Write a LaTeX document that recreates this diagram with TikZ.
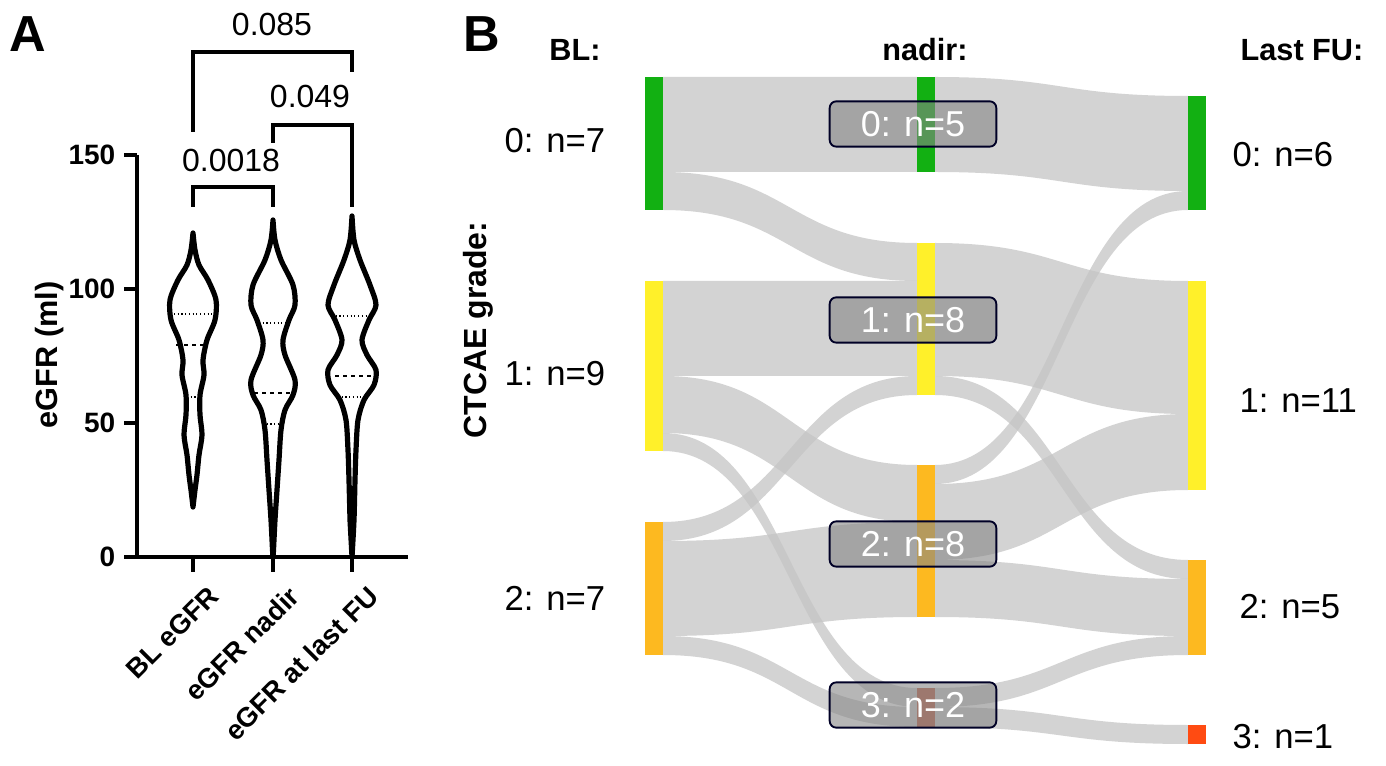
\documentclass[tikz,border=0pt]{standalone}
\usepackage{fontspec}
\setmainfont{Liberation Sans}
\definecolor{cg}{HTML}{12B012}
\definecolor{cy}{HTML}{FFF02A}
\definecolor{co}{HTML}{FDB920}
\definecolor{cb}{HTML}{C0654A}
\definecolor{cr}{HTML}{FF4B12}
\definecolor{fl}{HTML}{C4C4C4}
\newcommand{\fs}[1]{\fontsize{#1}{#1}\selectfont}
\newcommand{\ribbon}[6]{% x1 a1 a2 x2 b1 b2
 \fill[fl,opacity=0.75] (#1,#2) .. controls ({(#1+#4)/2},#2) and ({(#1+#4)/2},#5) .. (#4,#5) -- (#4,#6) .. controls ({(#1+#4)/2},#6) and ({(#1+#4)/2},#3) .. (#1,#3) -- cycle;}
\begin{document}
\begin{tikzpicture}[x=0.75pt,y=-0.75pt,
  vio/.style={line width=3.9pt,line join=round},
  axis/.style={line width=2.8pt},
  brk/.style={line width=2.4pt},
  tick/.style={font=\fs{21}\bfseries,anchor=east},
  cat/.style={font=\fs{20.5}\bfseries,anchor=north east,rotate=45},
  pv/.style={font=\fs{24}},
  lab/.style={font=\fs{26}},
  hdr/.style={font=\fs{23}\bfseries},
  bx/.style={draw=black!85!blue,line width=1.4pt,rounded corners=5pt,fill=gray!95,fill opacity=0.6,text=white,text opacity=1,minimum width=125pt,minimum height=34pt,font=\fs{27}}]
\useasboundingbox (0,0) rectangle (1386,766);
% ---------- Panel A
\node[font=\fs{38}\bfseries] (A) at (28,34) {A};
\draw[axis] (137,155) -- (137,557) -- (408,557);
\foreach \y/\t in {155/150,289/100,423/50,557/0}{
  \draw[axis] (124,\y) -- (137,\y);
  \node[tick] (t\t) at (120,\y) {\t};}
\foreach \x in {193,273,352}{\draw[axis] (\x,557) -- (\x,572);}
\node[font=\fs{23}\bfseries,rotate=90] (yl) at (50,355) {eGFR (ml)};
\node[cat] (c1) at (207,578) {BL eGFR};
\node[cat] (c2) at (287,578) {eGFR nadir};
\node[cat] (c3) at (366,578) {eGFR at last FU};
% violins
\draw[vio] plot[smooth] coordinates {(193,233)(195,250)(199,265)(208,280)(216,300)(215,320)(207,340)(203,360)(204,375)(200,395)(200,415)(202,435)(199,455)(197,475)(195,490)(193,507)}
  -- plot[smooth] coordinates {(191,490)(189,475)(187,455)(184,435)(186,415)(186,395)(182,375)(183,360)(179,340)(171,320)(170,300)(178,280)(187,265)(191,250)(193,233)} -- cycle;
\draw[vio] plot[smooth] coordinates {(273,220)(275,240)(281,260)(293,285)(295,305)(289,320)(283,340)(285,355)(295,380)(293,395)(285,410)(281,430)(279,460)(277,490)(275,520)(273.5,550)(273,557)}
  -- plot[smooth] coordinates {(272.5,550)(271,520)(269,490)(267,460)(265,430)(261,410)(253,395)(251,380)(261,355)(263,340)(257,320)(251,305)(253,285)(265,260)(271,240)(273,220)} -- cycle;
\draw[vio] plot[smooth] coordinates {(352,216)(354,240)(360,260)(370,285)(376,305)(369,320)(362,340)(367,355)(376,370)(374,385)(364,400)(358,420)(356,450)(355,480)(354,520)(352,557)}
  -- plot[smooth] coordinates {(350,520)(349,480)(348,450)(346,420)(340,400)(330,385)(328,370)(337,355)(342,340)(335,320)(328,305)(334,285)(344,260)(350,240)(352,216)} -- cycle;
\draw[dotted,thick] (174,314) -- (212,314); \draw[dashed,thick] (176,345) -- (206,345); \draw[dotted,thick] (187,397) -- (199,397);
\draw[dotted,thick] (259,323) -- (288,323); \draw[dashed,thick] (254,393) -- (293,393); \draw[dotted,thick] (263,424) -- (283,424);
\draw[dotted,thick] (332,316) -- (372,316); \draw[dashed,thick] (335,376) -- (375,376); \draw[dotted,thick] (338,397) -- (366,397);
% brackets
\draw[brk] (193,207) -- (193,187) -- (273,187) -- (273,207);
\node[pv] (p1) at (231,160) {0.0018};
\draw[brk] (273,143) -- (273,125) -- (352,125) -- (352,207);
\node[pv] (p2) at (310,96) {0.049};
\draw[brk] (193,132) -- (193,52) -- (352,52) -- (352,72);
\node[pv] (p3) at (272,24) {0.085};
% ---------- Panel B
\node[font=\fs{38}\bfseries] (B) at (482,34) {B};
\node[hdr] (h1) at (575,50) {BL:};
\node[hdr] (h2) at (925,50) {nadir:};
\node[hdr] (h3) at (1302,50) {Last FU:};
\node[font=\fs{24}\bfseries,rotate=90] (ct) at (478,330) {CTCAE grade:};
% ribbons BL -> nadir
\ribbon{663}{77}{172}{917}{77}{172}
\ribbon{663}{172}{210}{917}{243}{281}
\ribbon{663}{281}{376}{917}{281}{376}
\ribbon{663}{376}{433}{917}{465}{522}
\ribbon{663}{433}{451}{917}{688}{707}
\ribbon{663}{522}{541}{917}{376}{395}
\ribbon{663}{541}{636}{917}{522}{617}
\ribbon{663}{636}{655}{917}{707}{727}
% nadir -> last FU
\ribbon{935}{77}{172}{1188}{96}{191}
\ribbon{935}{243}{376}{1188}{281}{414}
\ribbon{935}{376}{395}{1188}{560}{579}
\ribbon{935}{465}{484}{1188}{191}{210}
\ribbon{935}{484}{560}{1188}{414}{490}
\ribbon{935}{560}{617}{1188}{579}{636}
\ribbon{935}{688}{707}{1188}{636}{655}
\ribbon{935}{707}{727}{1188}{725}{744}
% nodes
\fill[cg] (645,77) rectangle (663,210);
\fill[cy] (645,281) rectangle (663,451);
\fill[co] (645,522) rectangle (663,655);
\fill[cg] (917,77) rectangle (935,172);
\fill[cy] (917,243) rectangle (935,395);
\fill[co] (917,465) rectangle (935,617);
\fill[cb] (917,688) rectangle (935,727);
\fill[cg] (1188,96) rectangle (1206,210);
\fill[cy] (1188,281) rectangle (1206,490);
\fill[co] (1188,560) rectangle (1206,655);
\fill[cr] (1188,725) rectangle (1206,744);
% labels
\node[lab] (b0) at (555,141) {0: n=7};
\node[lab] (b1) at (555,374) {1: n=9};
\node[lab] (b2) at (555,598) {2: n=7};
\node[bx] (n0) at (913,124) {0: n=5};
\node[bx] (n1) at (913,320) {1: n=8};
\node[bx] (n2) at (913,544) {2: n=8};
\node[bx] (n3) at (913,705) {3: n=2};
\node[lab,anchor=west] (l0) at (1228,155) {0: n=6};
\node[lab,anchor=west] (l1) at (1235,401) {1: n=11};
\node[lab,anchor=west] (l2) at (1235,607) {2: n=5};
\node[lab,anchor=west] (l3) at (1228,737) {3: n=1};
\end{tikzpicture}
\end{document}
